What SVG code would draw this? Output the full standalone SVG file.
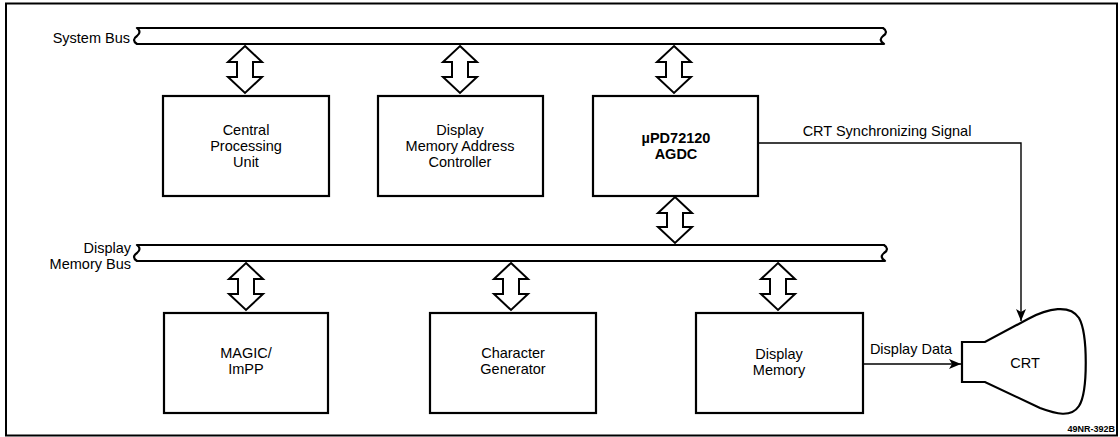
<svg xmlns="http://www.w3.org/2000/svg" width="1120" height="437" viewBox="0 0 1120 437">
<defs>
<style>
.t{font-family:"Liberation Sans",Arial,sans-serif;font-size:14.5px;fill:#000;text-anchor:middle}
.b{font-weight:bold}
.box{fill:#fff;stroke:#000;stroke-width:2.2}
.bus{fill:#fff;stroke:#000;stroke-width:2.2;stroke-linejoin:round}
.dar{fill:#fff;stroke:#000;stroke-width:2}
.ln{fill:none;stroke:#000;stroke-width:1.4}
</style>
<marker id="ah" viewBox="0 0 12 10" refX="12" refY="5" markerWidth="12" markerHeight="10" markerUnits="userSpaceOnUse" orient="auto">
<path d="M0,0 L12,5 L0,10 L3,5 Z" fill="#000"/>
</marker>
</defs>
<rect width="1120" height="437" fill="#fff"/>
<rect x="6" y="3.5" width="1111" height="432" fill="none" stroke="#000" stroke-width="2"/>

<g id="system-bus">
<path class="bus" d="M137,28 L883,28 Q889,32 883,36 Q878,40 884,44 L137,44 Q131,40 137,36 Q142,32 137,28 Z"/>
<text class="t" x="130" y="43" style="text-anchor:end">System Bus</text>
</g>
<g id="display-memory-bus">
<path class="bus" d="M137,245 L884,245 Q890,249 884,253 Q879,257 885,261 L137,261 Q131,257 137,253 Q142,249 137,245 Z"/>
<text class="t" x="131" y="253" style="text-anchor:end">Display</text>
<text class="t" x="131" y="269" style="text-anchor:end">Memory Bus</text>
</g>

<g id="cpu">
<rect class="box" x="163" y="96" width="166" height="100"/>
<text class="t" x="246" y="135">Central</text>
<text class="t" x="246" y="151">Processing</text>
<text class="t" x="246" y="167">Unit</text>
</g>
<g id="dmac">
<rect class="box" x="378" y="96" width="165" height="100"/>
<text class="t" x="460" y="135">Display</text>
<text class="t" x="460" y="151">Memory Address</text>
<text class="t" x="460" y="167">Controller</text>
</g>
<g id="agdc">
<rect class="box" x="593" y="96" width="165" height="100"/>
<text class="t b" x="676" y="143">µPD72120</text>
<text class="t b" x="676" y="159">AGDC</text>
</g>
<g id="magic">
<rect class="box" x="164" y="313" width="164" height="100"/>
<text class="t" x="246" y="358">MAGIC/</text>
<text class="t" x="246" y="374">ImPP</text>
</g>
<g id="chargen">
<rect class="box" x="430" y="313" width="166" height="100"/>
<text class="t" x="513" y="358">Character</text>
<text class="t" x="513" y="374">Generator</text>
</g>
<g id="dispmem">
<rect class="box" x="696" y="313" width="167" height="100"/>
<text class="t" x="779" y="359">Display</text>
<text class="t" x="779" y="375">Memory</text>
</g>
<g id="crt">
<path class="box" d="M962,342 L985,342 L1028,319 C1048,308 1070,304 1079,318 C1088,334 1088,392 1079,406 C1071,418 1056,414 1040,408 L985,382 L962,382 Z"/>
<text class="t" x="1025" y="368">CRT</text>
</g>

<g id="connectors">
<path class="dar" d="M245,46 L262,62 L253,62 L253,77 L262,77 L245,93 L228,77 L237,77 L237,62 L228,62 Z"/>
<path class="dar" d="M460,46 L477,62 L468,62 L468,77 L477,77 L460,93 L443,77 L452,77 L452,62 L443,62 Z"/>
<path class="dar" d="M674,46 L691,62 L682,62 L682,77 L691,77 L674,93 L657,77 L666,77 L666,62 L657,62 Z"/>
<path class="dar" d="M675,197 L692,213 L683,213 L683,227 L692,227 L675,243 L658,227 L667,227 L667,213 L658,213 Z"/>
<path class="dar" d="M246,263 L263,279 L254,279 L254,294 L263,294 L246,310 L229,294 L238,294 L238,279 L229,279 Z"/>
<path class="dar" d="M511,263 L528,279 L519,279 L519,294 L528,294 L511,310 L494,294 L503,294 L503,279 L494,279 Z"/>
<path class="dar" d="M778,263 L795,279 L786,279 L786,294 L795,294 L778,310 L761,294 L770,294 L770,279 L761,279 Z"/>
<path class="ln" d="M758,143 L1021,143 L1021,321" marker-end="url(#ah)"/>
<text class="t" x="887" y="136">CRT Synchronizing Signal</text>
<path class="ln" d="M863,364 L961,364" marker-end="url(#ah)"/>
<text class="t" x="911" y="354">Display Data</text>
</g>
<text class="t b" x="1115" y="432" style="font-size:9px;text-anchor:end">49NR-392B</text>
</svg>
